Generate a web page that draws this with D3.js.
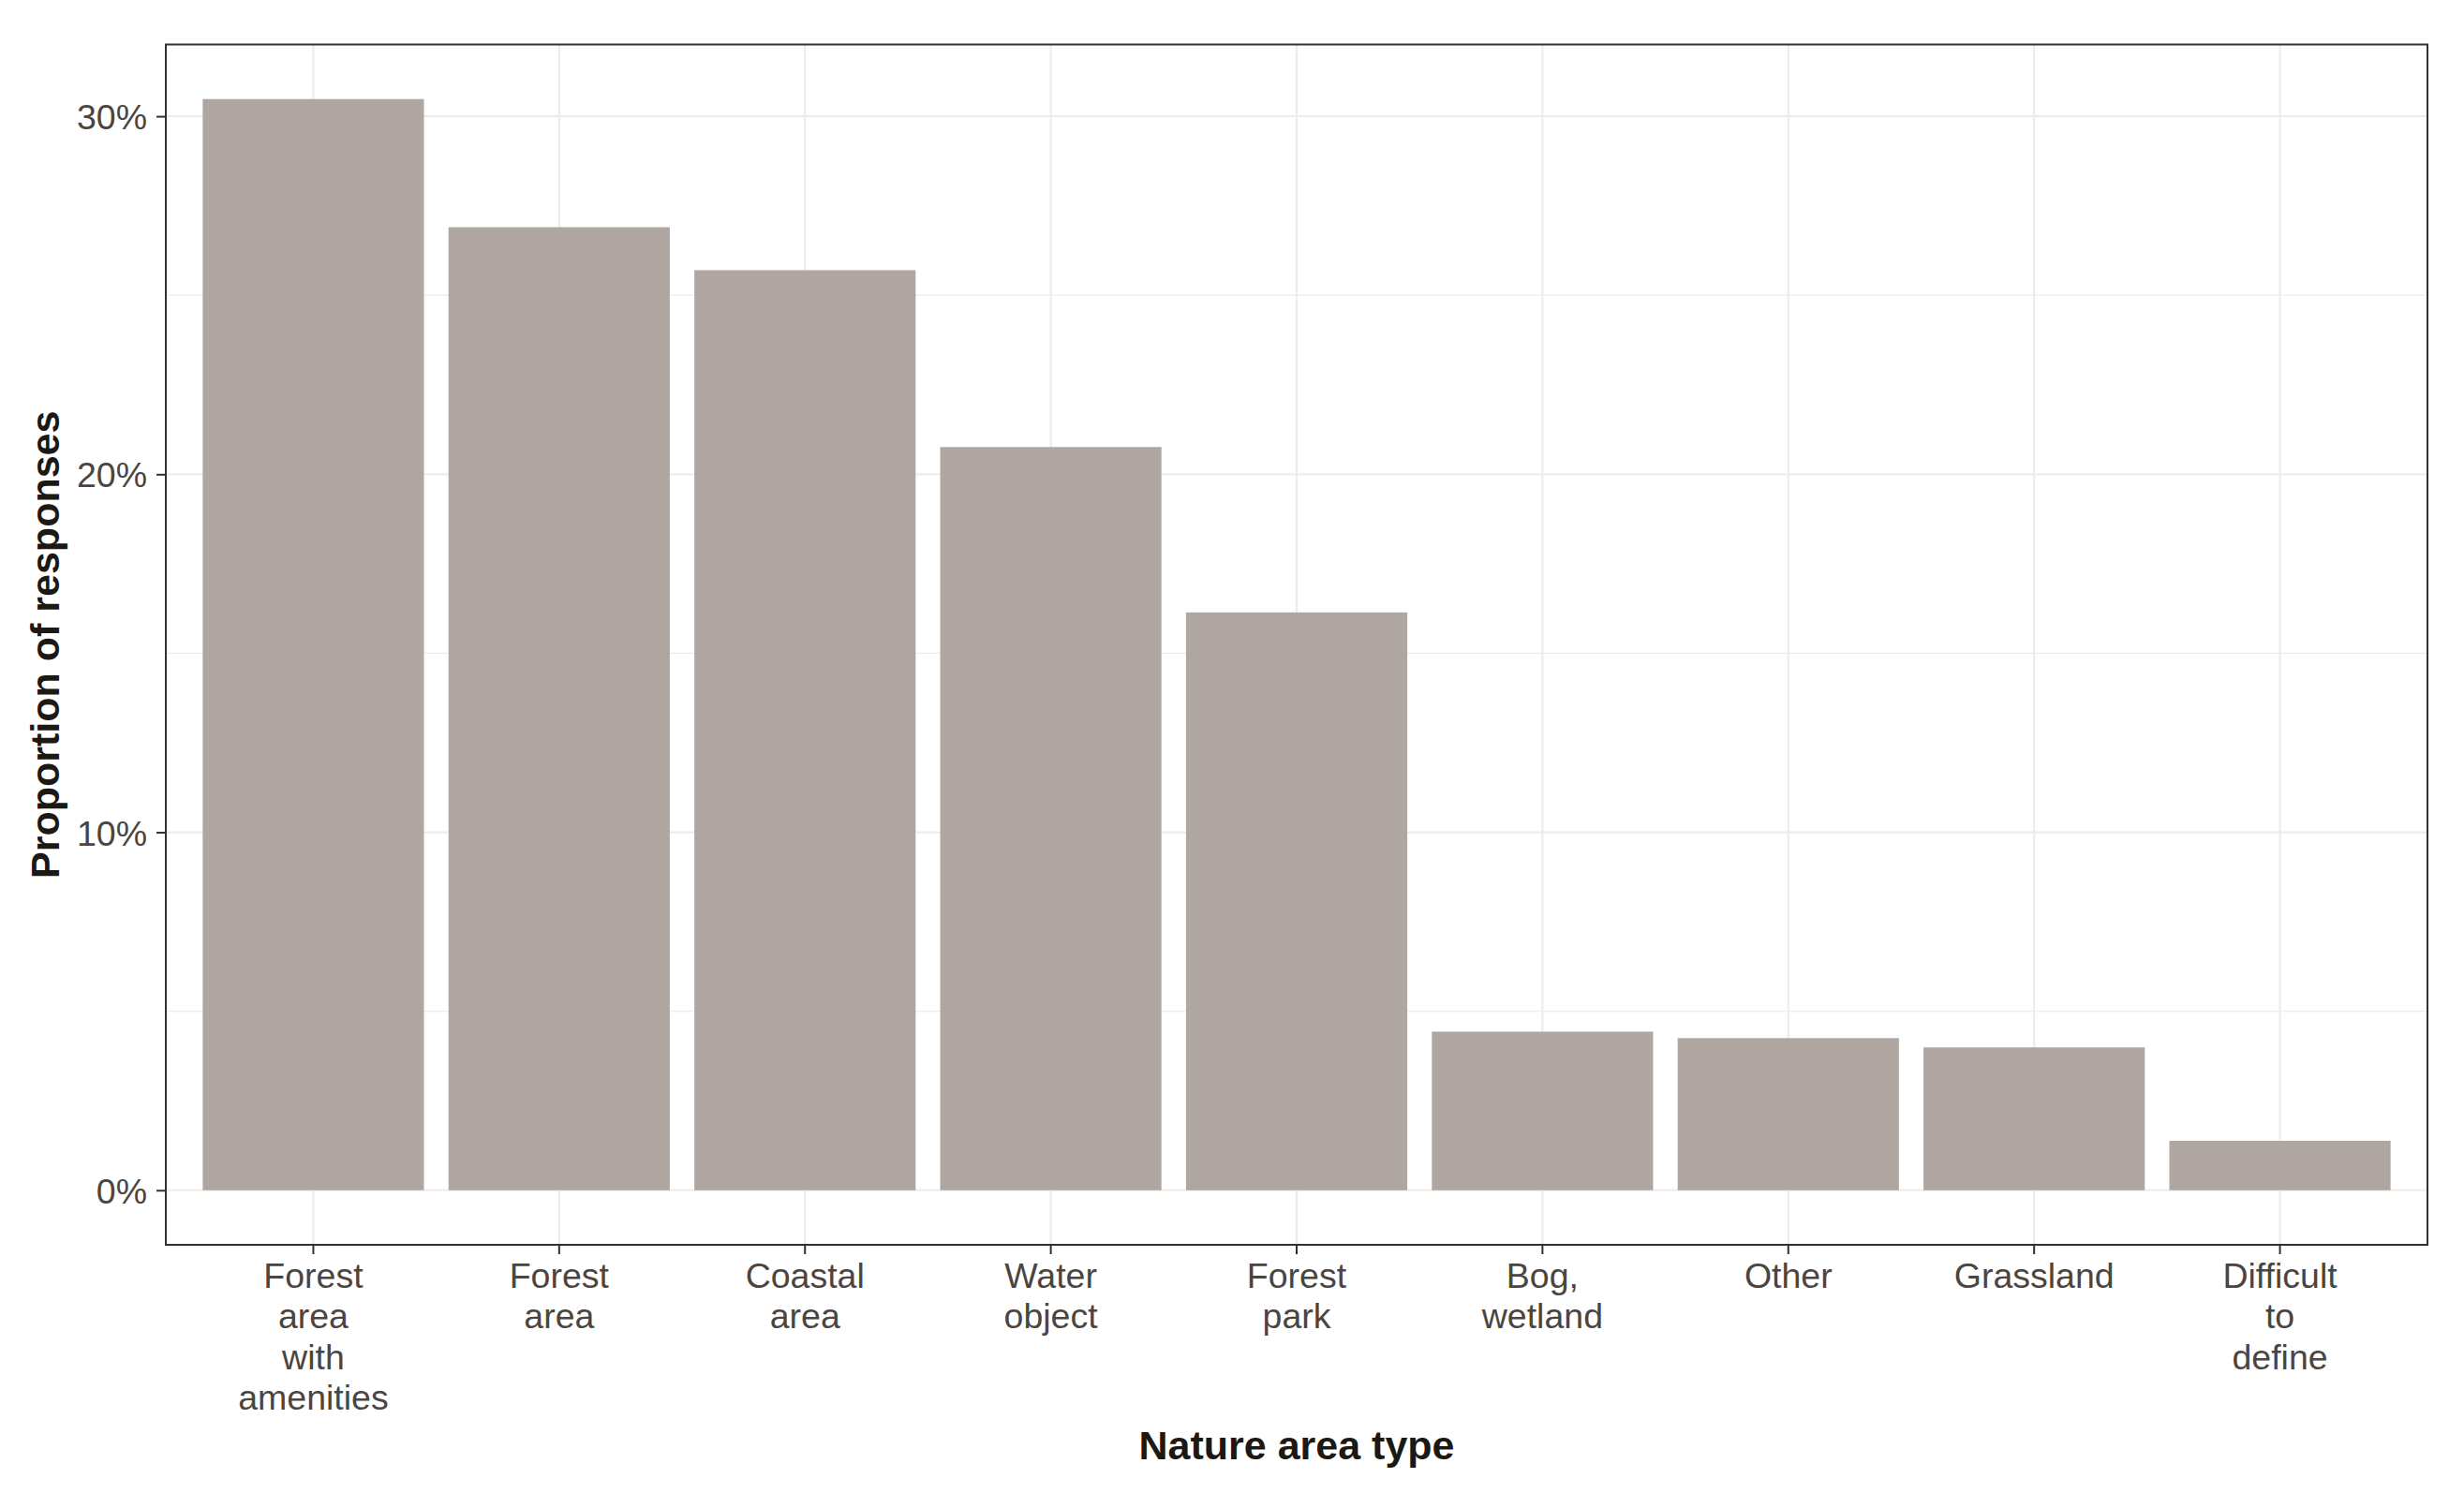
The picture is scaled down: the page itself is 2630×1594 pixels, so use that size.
<!DOCTYPE html>
<html>
<head>
<meta charset="utf-8">
<script src="https://cdn.jsdelivr.net/npm/d3@7"></script>
<style>
  html, body { margin: 0; padding: 0; background: #ffffff; }
  svg { display: block; }
  text { font-family: "Liberation Sans", Arial, sans-serif; }
</style>
</head>
<body>
<svg id="chart" width="2630" height="1594"></svg>
<script>
// ---- data ----
const categories = [
  "Forest\narea\nwith\namenities",
  "Forest\narea",
  "Coastal\narea",
  "Water\nobject",
  "Forest\npark",
  "Bog,\nwetland",
  "Other",
  "Grassland",
  "Difficult\nto\ndefine"
];
const proportions = [30.48, 26.90, 25.70, 20.76, 16.14, 4.43, 4.25, 3.99, 1.38];
const yMajorTicks = [0, 10, 20, 30];
const yMinorTicks = [5, 15, 25];
const yTickLabels = ["0%", "10%", "20%", "30%"];
const xTitle = "Nature area type";
const yTitle = "Proportion of responses";

// ---- layout ----
const W = 2630, H = 1594;
const panel = { left: 177, right: 2591, top: 47.5, bottom: 1329 };
const barColor = "#b0a6a1";
const gridColor = "#efebeb";
const axisColor = "#35302c";
const tickTextColor = "#4b4541";
const titleColor = "#1c1814";

const svg = d3.select("#chart");

const data = categories.map((c, i) => ({ cat: c, value: proportions[i] }));

const x = d3.scaleBand()
  .domain(categories)
  .range([panel.left, panel.right])
  .paddingInner(0.1)
  .paddingOuter(0.15)
  .align(0.5);

const maxV = d3.max(proportions);
const y = d3.scaleLinear()
  .domain([-0.05 * maxV, maxV * 1.05])
  .range([panel.bottom, panel.top]);

// background
svg.append("rect").attr("x", 0).attr("y", 0).attr("width", W).attr("height", H).attr("fill", "#ffffff");

// grid
const grid = svg.append("g");
grid.selectAll("line.minor").data(yMinorTicks).enter().append("line")
  .attr("x1", panel.left).attr("x2", panel.right)
  .attr("y1", d => y(d)).attr("y2", d => y(d))
  .attr("stroke", gridColor).attr("stroke-width", 1.3);
grid.selectAll("line.majy").data(yMajorTicks).enter().append("line")
  .attr("x1", panel.left).attr("x2", panel.right)
  .attr("y1", d => y(d)).attr("y2", d => y(d))
  .attr("stroke", gridColor).attr("stroke-width", 2.2);
grid.selectAll("line.majx").data(categories).enter().append("line")
  .attr("x1", d => x(d) + x.bandwidth() / 2).attr("x2", d => x(d) + x.bandwidth() / 2)
  .attr("y1", panel.top).attr("y2", panel.bottom)
  .attr("stroke", gridColor).attr("stroke-width", 2.2);

// bars
svg.append("g").selectAll("rect").data(data).enter().append("rect")
  .attr("x", d => x(d.cat))
  .attr("width", x.bandwidth())
  .attr("y", d => y(d.value))
  .attr("height", d => y(0) - y(d.value))
  .attr("fill", barColor);

// panel border
svg.append("rect")
  .attr("x", panel.left).attr("y", panel.top)
  .attr("width", panel.right - panel.left)
  .attr("height", panel.bottom - panel.top)
  .attr("fill", "none")
  .attr("stroke", axisColor)
  .attr("stroke-width", 2);

// y axis
const yAxis = d3.axisLeft(y)
  .tickValues(yMajorTicks)
  .tickFormat((d, i) => yTickLabels[i])
  .tickSize(10)
  .tickPadding(10);
const gy = svg.append("g").attr("transform", `translate(${panel.left},0)`).call(yAxis);
gy.select(".domain").remove();
gy.selectAll(".tick line").attr("stroke", axisColor).attr("stroke-width", 2);
gy.selectAll(".tick text")
  .attr("fill", tickTextColor)
  .attr("font-size", 37.5)
  .attr("font-family", '"Liberation Sans", Arial, sans-serif')
  .attr("dy", "0.36em");

// x axis
const xAxis = d3.axisBottom(x).tickSize(10).tickFormat("");
const gx = svg.append("g").attr("transform", `translate(0,${panel.bottom})`).call(xAxis);
gx.select(".domain").remove();
gx.selectAll(".tick line").attr("stroke", axisColor).attr("stroke-width", 2);
gx.selectAll(".tick text").remove();

const xLabels = svg.append("g");
xLabels.selectAll("text").data(categories).enter().append("text")
  .attr("text-anchor", "middle")
  .attr("fill", tickTextColor)
  .attr("font-size", 37.5)
  .attr("transform", d => `translate(${x(d) + x.bandwidth() / 2},1375)`)
  .each(function(d) {
    const lines = d.split("\n");
    d3.select(this).selectAll("tspan").data(lines).enter().append("tspan")
      .attr("x", 0)
      .attr("y", (l, i) => i * 43.4)
      .text(l => l);
  });

// axis titles
svg.append("text")
  .attr("x", (panel.left + panel.right) / 2)
  .attr("y", 1558)
  .attr("text-anchor", "middle")
  .attr("font-size", 43)
  .attr("font-weight", "bold")
  .attr("fill", titleColor)
  .text(xTitle);

svg.append("text")
  .attr("transform", `translate(63,${(panel.top + panel.bottom) / 2}) rotate(-90)`)
  .attr("text-anchor", "middle")
  .attr("font-size", 43)
  .attr("font-weight", "bold")
  .attr("fill", titleColor)
  .text(yTitle);
</script>
</body>
</html>
